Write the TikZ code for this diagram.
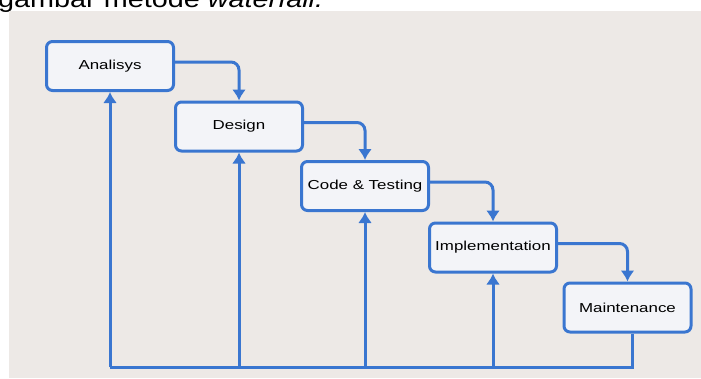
\documentclass[tikz,border=0pt]{standalone}
\usepackage{fontspec}
\setmainfont{Liberation Sans}
\newfontfamily\boxfont[FakeStretch=1.3]{Liberation Sans}
\newfontfamily\capfont[FakeStretch=1.2]{Liberation Sans}
\usetikzlibrary{arrows.meta}
\definecolor{wfblue}{RGB}{58,118,208}
\definecolor{panel}{RGB}{237,233,230}
\definecolor{boxfill}{RGB}{243,244,248}

\begin{document}
\begin{tikzpicture}[x=1pt,y=-1pt,
    stage/.style={draw=wfblue,line width=3pt,fill=boxfill,rounded corners=6pt,
      minimum width=127pt,minimum height=49pt,inner sep=0pt,
      font=\boxfont\fontsize{13}{15}\selectfont},
    link/.style={draw=wfblue,line width=3pt},
    flow/.style={link,-{Latex[length=11pt,width=14pt]}}]
                      \useasboundingbox (0,0) rectangle (701,378);
                      \clip (0,0) rectangle (701,378);
                      % caption line above the panel
                      \node[anchor=base west,inner sep=0pt,font=\capfont\fontsize{24}{28}\selectfont](cap)at(-2,7){gambar metode \textit{waterfall.}};
                      \fill[panel] (9,11) rectangle (701,378);
                      % the five phases
                      \node[stage](a)at(110,66){Analisys};
                      \node[stage](b)at(239,126.5){Design};
                      \node[stage](c)at(365,186){Code \& Testing};
                      \node[stage](d)at(493,247.5){Implementation};
                      \node[stage](e)at(627.5,307.5){Maintenance};
                      % forward flow
                      \foreach \p/\q in {a/b, b/c, c/d, d/e}
                        \draw[flow,rounded corners=8pt]([yshift=4pt]\p.east) -| (\q.north);
                      % feedback line
                      \coordinate (base) at (0,367);
                      \draw[link]([xshift=5pt]e.south) -- ([xshift=5pt]e.south |- base) -- (a.south |- base);
                      \foreach \p in {a,b,c,d}
                        \draw[flow](\p.south |- base) -- (\p.south);
                  \end{tikzpicture}
\end{document}
